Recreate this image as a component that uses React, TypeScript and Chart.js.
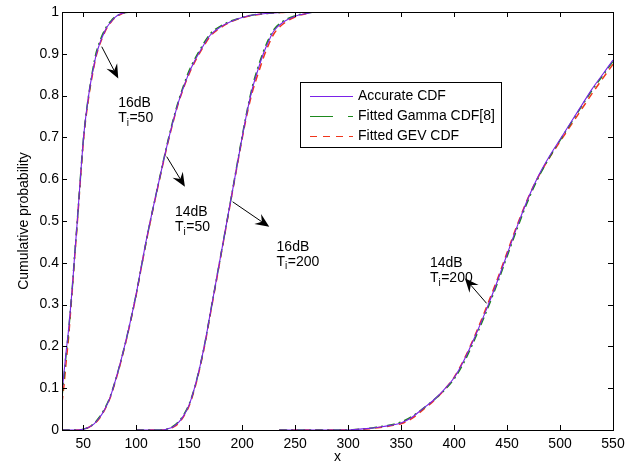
import React, { useEffect, useRef } from 'react';
import { Chart, registerables } from 'chart.js';

Chart.register(...registerables);

const FONT = '"Liberation Sans", Arial, Helvetica, sans-serif';

// Axis ticks
const xTicks = [50, 100, 150, 200, 250, 300, 350, 400, 450, 500, 550];
const yTicks = [0, 0.1, 0.2, 0.3, 0.4, 0.5, 0.6, 0.7, 0.8, 0.9, 1];

// Curve 1: 16dB, Ti=50
const c1X = [30, 32, 34, 36, 38, 40, 42, 44, 46, 48, 50, 52, 54, 56, 58, 60, 62, 65, 68, 72, 76, 80, 85, 90, 95, 550];
const c1Acc = [0.09, 0.14, 0.19, 0.235, 0.29, 0.35, 0.42, 0.485, 0.555, 0.625, 0.69, 0.74, 0.78, 0.815, 0.845, 0.87, 0.895, 0.92, 0.94, 0.962, 0.976, 0.987, 0.995, 0.999, 1, 1];
const c1Gamma = [0.08, 0.13, 0.185, 0.23, 0.29, 0.35, 0.42, 0.485, 0.555, 0.625, 0.69, 0.74, 0.78, 0.815, 0.847, 0.875, 0.9, 0.925, 0.945, 0.965, 0.978, 0.988, 0.995, 0.999, 1, 1];
const c1Gev = [0.065, 0.11, 0.165, 0.215, 0.28, 0.345, 0.415, 0.48, 0.55, 0.62, 0.685, 0.735, 0.775, 0.81, 0.84, 0.867, 0.892, 0.918, 0.938, 0.96, 0.975, 0.986, 0.994, 0.999, 1, 1];

// Curve 2: 14dB, Ti=50
const c2X = [30, 45, 50, 55, 60, 65, 70, 75, 80, 85, 90, 95, 100, 105, 110, 115, 120, 125, 130, 135, 140, 145, 150, 155, 160, 170, 180, 190, 200, 210, 230, 250, 550];
const c2Acc = [0, 0, 0.002, 0.006, 0.014, 0.028, 0.048, 0.075, 0.115, 0.16, 0.21, 0.265, 0.325, 0.393, 0.46, 0.52, 0.578, 0.635, 0.69, 0.74, 0.785, 0.822, 0.855, 0.882, 0.905, 0.945, 0.965, 0.978, 0.987, 0.993, 0.998, 1, 1];
const c2Gamma = [0, 0, 0.002, 0.006, 0.015, 0.03, 0.05, 0.077, 0.115, 0.16, 0.21, 0.265, 0.325, 0.392, 0.458, 0.52, 0.578, 0.636, 0.692, 0.743, 0.788, 0.826, 0.86, 0.886, 0.909, 0.948, 0.967, 0.979, 0.987, 0.993, 0.998, 1, 1];
const c2Gev = [0, 0, 0.002, 0.006, 0.014, 0.027, 0.047, 0.074, 0.113, 0.158, 0.208, 0.263, 0.323, 0.391, 0.457, 0.518, 0.576, 0.633, 0.688, 0.738, 0.783, 0.82, 0.852, 0.879, 0.902, 0.942, 0.963, 0.977, 0.986, 0.992, 0.998, 1, 1];

// Curve 3: 16dB, Ti=200
const c3X = [100, 125, 130, 135, 140, 145, 150, 155, 160, 165, 170, 175, 180, 185, 190, 195, 200, 205, 210, 215, 220, 225, 230, 240, 250, 260, 270, 550];
const c3Acc = [0, 0, 0.003, 0.008, 0.018, 0.035, 0.06, 0.1, 0.15, 0.21, 0.28, 0.35, 0.42, 0.49, 0.56, 0.63, 0.7, 0.765, 0.82, 0.862, 0.9, 0.93, 0.955, 0.978, 0.99, 0.996, 1, 1];
const c3Gamma = [0, 0, 0.003, 0.009, 0.02, 0.037, 0.062, 0.1, 0.15, 0.21, 0.28, 0.35, 0.42, 0.49, 0.56, 0.632, 0.702, 0.768, 0.825, 0.868, 0.905, 0.935, 0.958, 0.98, 0.991, 0.997, 1, 1];
const c3Gev = [0, 0, 0.002, 0.007, 0.016, 0.033, 0.058, 0.097, 0.147, 0.207, 0.277, 0.347, 0.418, 0.488, 0.558, 0.628, 0.697, 0.76, 0.812, 0.852, 0.89, 0.922, 0.948, 0.974, 0.988, 0.996, 1, 1];

// Curve 4: 14dB, Ti=200
const c4X = [235, 300, 310, 320, 330, 340, 350, 360, 370, 380, 390, 400, 410, 420, 430, 440, 450, 460, 470, 480, 490, 500, 510, 520, 530, 540, 550];
const c4Acc = [0, 0, 0.002, 0.004, 0.007, 0.011, 0.017, 0.03, 0.05, 0.07, 0.095, 0.125, 0.17, 0.225, 0.285, 0.35, 0.42, 0.49, 0.555, 0.61, 0.655, 0.695, 0.735, 0.775, 0.815, 0.85, 0.885];
const c4Gamma = [0, 0, 0.002, 0.004, 0.008, 0.012, 0.019, 0.032, 0.05, 0.07, 0.093, 0.122, 0.165, 0.22, 0.28, 0.345, 0.415, 0.485, 0.55, 0.606, 0.652, 0.693, 0.733, 0.773, 0.812, 0.847, 0.882];
const c4Gev = [0, 0, 0.001, 0.003, 0.006, 0.01, 0.015, 0.027, 0.047, 0.068, 0.094, 0.126, 0.172, 0.228, 0.29, 0.355, 0.424, 0.493, 0.556, 0.608, 0.651, 0.69, 0.728, 0.766, 0.804, 0.84, 0.875];

const seriesNames = ['Accurate CDF', 'Fitted Gamma CDF[8]', 'Fitted GEV CDF'];
const seriesColors = ['#7a22e8', '#1d8a1d', '#f0361c'];

// Annotations: text anchor (data coords), arrow tail and tip (data coords)
const annoTop = ['16dB', '14dB', '16dB', '14dB'];
const annoSub = ['=50', '=50', '=200', '=200'];
const annoTextX = [83, 136.6, 232.5, 377.2];
const annoTextY = [0.782, 0.522, 0.4385, 0.399];
const arrowFromX = [67.5, 128.8, 191, 430.7];
const arrowFromY = [0.917, 0.654, 0.546, 0.303];
const arrowToX = [83.1, 146, 225.6, 410.2];
const arrowToY = [0.841, 0.582, 0.486, 0.363];

const curves = [
  { x: c1X, ys: [c1Acc, c1Gamma, c1Gev] },
  { x: c2X, ys: [c2Acc, c2Gamma, c2Gev] },
  { x: c3X, ys: [c3Acc, c3Gamma, c3Gev] },
  { x: c4X, ys: [c4Acc, c4Gamma, c4Gev] },
];

const dashes: number[][] = [[], [8, 4, 2, 4], [7, 5]];
const widths = [1.1, 1.5, 1.5];
const orders = [1, 2, 3];

const framePlugin = {
  id: 'frame',
  afterDraw(chart: any) {
    const { ctx, chartArea } = chart;
    const { left, right, top, bottom } = chartArea;
    const xs = chart.scales.x;
    const ys = chart.scales.y;
    ctx.save();
    ctx.strokeStyle = '#000';
    ctx.lineWidth = 1;
    ctx.setLineDash([]);
    ctx.beginPath();
    ctx.rect(Math.round(left) + 0.5, Math.round(top) + 0.5, Math.round(right - left), Math.round(bottom - top));
    const tl = 5;
    xTicks.forEach((v) => {
      const px = Math.round(xs.getPixelForValue(v)) + 0.5;
      ctx.moveTo(px, bottom);
      ctx.lineTo(px, bottom - tl);
      ctx.moveTo(px, top);
      ctx.lineTo(px, top + tl);
    });
    yTicks.forEach((v) => {
      const py = Math.round(ys.getPixelForValue(v)) + 0.5;
      ctx.moveTo(left, py);
      ctx.lineTo(left + tl, py);
      ctx.moveTo(right, py);
      ctx.lineTo(right - tl, py);
    });
    ctx.stroke();
    ctx.restore();
  },
};

function drawArrow(ctx: CanvasRenderingContext2D, x0: number, y0: number, x1: number, y1: number) {
  const dx = x1 - x0;
  const dy = y1 - y0;
  const len = Math.hypot(dx, dy);
  const ux = dx / len;
  const uy = dy / len;
  const nx = -uy;
  const ny = ux;
  const hl = 14;
  const hw = 6;
  const notch = 9;
  ctx.beginPath();
  ctx.moveTo(x0, y0);
  ctx.lineTo(x1 - ux * notch, y1 - uy * notch);
  ctx.stroke();
  ctx.beginPath();
  ctx.moveTo(x1, y1);
  ctx.lineTo(x1 - ux * hl + nx * hw, y1 - uy * hl + ny * hw);
  ctx.lineTo(x1 - ux * notch, y1 - uy * notch);
  ctx.lineTo(x1 - ux * hl - nx * hw, y1 - uy * hl - ny * hw);
  ctx.closePath();
  ctx.fill();
}

const annotationPlugin = {
  id: 'annos',
  afterDatasetsDraw(chart: any) {
    const { ctx } = chart;
    const xs = chart.scales.x;
    const ys = chart.scales.y;
    ctx.save();
    ctx.fillStyle = '#000';
    ctx.strokeStyle = '#000';
    ctx.lineWidth = 1;
    ctx.setLineDash([]);
    for (let i = 0; i < annoTop.length; i++) {
      drawArrow(
        ctx,
        xs.getPixelForValue(arrowFromX[i]),
        ys.getPixelForValue(arrowFromY[i]),
        xs.getPixelForValue(arrowToX[i]),
        ys.getPixelForValue(arrowToY[i])
      );
      const tx = xs.getPixelForValue(annoTextX[i]);
      const ty = ys.getPixelForValue(annoTextY[i]);
      ctx.textAlign = 'left';
      ctx.textBaseline = 'middle';
      ctx.font = `14px ${FONT}`;
      ctx.fillText(annoTop[i], tx, ty);
      const ty2 = ty + 15;
      ctx.fillText('T', tx, ty2);
      let cx = tx + ctx.measureText('T').width;
      ctx.font = `10px ${FONT}`;
      ctx.fillText('i', cx, ty2 + 5);
      cx += ctx.measureText('i').width + 0.5;
      ctx.font = `14px ${FONT}`;
      ctx.fillText(annoSub[i], cx, ty2);
    }
    ctx.restore();
  },
};

const legendPlugin = {
  id: 'customLegend',
  afterDraw(chart: any) {
    const { ctx } = chart;
    ctx.save();
    const bx = 300.5;
    const by = 82.5;
    const bw = 201;
    const bh = 65;
    ctx.fillStyle = '#fff';
    ctx.fillRect(bx, by, bw, bh);
    ctx.strokeStyle = '#000';
    ctx.lineWidth = 1;
    ctx.setLineDash([]);
    ctx.strokeRect(bx, by, bw, bh);
    const rowY = [96, 116, 136];
    const lx0 = 310;
    const lx1 = 353;
    ctx.font = `14px ${FONT}`;
    ctx.textBaseline = 'middle';
    ctx.textAlign = 'left';
    seriesNames.forEach((name, i) => {
      ctx.strokeStyle = seriesColors[i];
      ctx.lineWidth = 1;
      const y = rowY[i] + 0.5;
      ctx.beginPath();
      if (i === 0) {
        ctx.setLineDash([]);
      } else if (i === 1) {
        ctx.setLineDash([23, 15, 5, 100]);
      } else {
        ctx.setLineDash([7, 6]);
      }
      ctx.moveTo(lx0, y);
      ctx.lineTo(lx1, y);
      ctx.stroke();
      ctx.setLineDash([]);
      ctx.fillStyle = '#000';
      ctx.fillText(name, 358, rowY[i]);
    });
    ctx.restore();
  },
};

export default function App() {
  const ref = useRef<HTMLCanvasElement | null>(null);
  useEffect(() => {
    if (!ref.current) return;
    Chart.defaults.font.family = FONT;
    const datasets: any[] = [];
    curves.forEach((c) => {
      c.ys.forEach((yArr, si) => {
        datasets.push({
          label: seriesNames[si],
          data: c.x.map((xv, k) => ({ x: xv, y: yArr[k] })),
          borderColor: seriesColors[si],
          backgroundColor: seriesColors[si],
          borderWidth: widths[si],
          borderDash: dashes[si],
          order: orders[si],
          pointRadius: 0,
          fill: false,
          cubicInterpolationMode: 'monotone',
          clip: 0,
        });
      });
    });
    const chart = new Chart(ref.current, {
      type: 'line',
      data: { datasets },
      options: {
        animation: false,
        responsive: false,
        devicePixelRatio: 1,
        layout: { padding: { left: 0, right: 26, top: 12, bottom: 0 } },
        plugins: { legend: { display: false }, tooltip: { enabled: false } },
        elements: { point: { radius: 0 } },
        scales: {
          x: {
            type: 'linear',
            min: 30,
            max: 550,
            afterBuildTicks: (s: any) => {
              s.ticks = xTicks.map((v) => ({ value: v }));
            },
            afterFit: (s: any) => {
              s.height = 36;
            },
            grid: { display: false, drawTicks: false },
            border: { display: true, color: '#000' },
            ticks: {
              color: '#000',
              font: { size: 14, family: FONT },
              padding: 6,
              maxRotation: 0,
              autoSkip: false,
              callback: (v: any) => String(v),
            },
            title: {
              display: true,
              text: 'x',
              color: '#000',
              font: { size: 14, family: FONT },
              padding: { top: 0, bottom: 0 },
            },
          },
          y: {
            type: 'linear',
            min: 0,
            max: 1,
            afterBuildTicks: (s: any) => {
              s.ticks = yTicks.map((v) => ({ value: v }));
            },
            afterFit: (s: any) => {
              s.width = 62;
            },
            grid: { display: false, drawTicks: false },
            border: { display: true, color: '#000' },
            ticks: {
              color: '#000',
              font: { size: 14, family: FONT },
              padding: 3,
              autoSkip: false,
              callback: (v: any) => String(v),
            },
            title: {
              display: true,
              text: 'Cumulative probability',
              color: '#000',
              font: { size: 14, family: FONT },
              padding: { top: 16, bottom: 0 },
            },
          },
        },
      },
      plugins: [framePlugin, annotationPlugin, legendPlugin],
    } as any);
    return () => chart.destroy();
  }, []);
  return (
    <div style={{ position: 'fixed', left: 0, top: 0, width: 639, height: 466, background: '#fff' }}>
      <canvas ref={ref} width={639} height={466} style={{ display: 'block' }} />
    </div>
  );
}
